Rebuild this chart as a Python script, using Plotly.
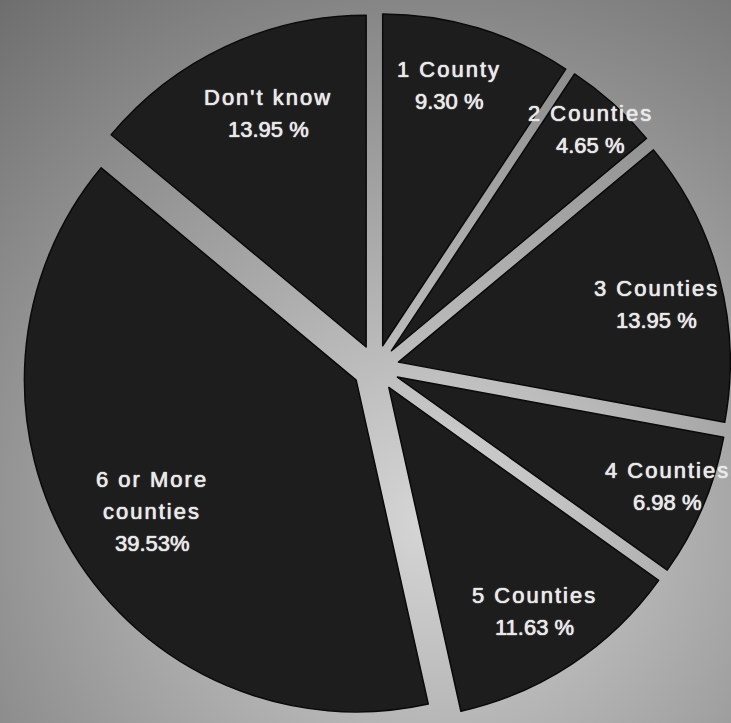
import base64
import math

import plotly.graph_objects as go

# Survey answers: how many counties, share of respondents (%)
categories = ["1 County", "2 Counties", "3 Counties", "4 Counties",
              "5 Counties", "6 or More\ncounties", "Don't know"]
shares = [9.30, 4.65, 13.95, 6.98, 11.63, 39.53, 13.95]
pct_sep = [" ", " ", " ", " ", " ", "", " "]

# Figure geometry
W, H = 731, 723
PULL = 0.07
dom_x = [21 / W, 1.0]
dom_y = [0.0, 710 / H]

# Label placement: radius as a fraction of the pie radius, small angular nudge (deg)
label_r = [0.88, 0.967, 0.867, 0.949, 0.877, 0.801, 0.834]
label_turn = [-2.2, 0.0, 1.9, -1.0, 0.4, -1.3, 2.2]
LINE_GAP = 32
FONT = "Liberation Sans, Arial, Helvetica, sans-serif"
TEXT_COLOR = "#e9e9e9"
SLICE_COLOR = "#1d1d1d"

# Soft grey radial backdrop
bg_svg = (
    f'<svg xmlns="http://www.w3.org/2000/svg" width="{W}" height="{H}">'
    '<defs><radialGradient id="g" gradientUnits="userSpaceOnUse" '
    'cx="430" cy="520" r="700">'
    '<stop offset="0" stop-color="#d6d6d6"/>'
    '<stop offset="1" stop-color="#6a6a6a"/>'
    '</radialGradient></defs>'
    f'<rect width="{W}" height="{H}" fill="url(#g)"/></svg>'
)
bg_uri = "data:image/svg+xml;base64," + base64.b64encode(bg_svg.encode()).decode()

names = [c.replace("\n", " ") for c in categories]

fig = go.Figure(
    go.Pie(
        labels=names,
        values=shares,
        sort=False,
        direction="clockwise",
        rotation=0,
        pull=[PULL] * len(shares),
        textinfo="none",
        hoverinfo="label+percent",
        marker=dict(colors=[SLICE_COLOR] * len(shares),
                    line=dict(color="#0a0a0a", width=1.5)),
        domain=dict(x=dom_x, y=dom_y),
        showlegend=False,
    )
)

# Pie centre and radius, following plotly's own pie sizing
box_w = W * (dom_x[1] - dom_x[0])
box_h = H * (dom_y[1] - dom_y[0])
R = min(box_w, box_h) / (2 + 2 * PULL)
cx = W * (dom_x[0] + dom_x[1]) / 2
cy = H * (1 - dom_y[0]) - box_h / 2

total = sum(shares)
annotations = []
start = 0.0
for cat, v, sep, rf, turn in zip(categories, shares, pct_sep, label_r, label_turn):
    span = 360.0 * v / total
    theta = math.radians(start + span / 2 + turn)
    start += span
    px = cx + rf * R * math.sin(theta)
    py = cy - rf * R * math.cos(theta)
    lines = [f'<span style="letter-spacing:2px">{t}</span>' for t in cat.split("\n")]
    lines.append(f"{v:.2f}{sep}%")
    n = len(lines)
    for k, line in enumerate(lines):
        ly = py + (k - (n - 1) / 2) * LINE_GAP
        annotations.append(dict(
            x=px / W, y=1 - ly / H, xref="paper", yref="paper",
            text=line, showarrow=False, xanchor="center", yanchor="middle",
            font=dict(family=FONT, size=22, color=TEXT_COLOR,
                      shadow="0px 0px 1px #e9e9e9, 0px 0px 1px #e9e9e9"),
        ))

fig.update_layout(
    width=W, height=H,
    margin=dict(l=0, r=0, t=0, b=0),
    paper_bgcolor="#8a8a8a",
    images=[dict(source=bg_uri, xref="paper", yref="paper", x=0, y=1,
                 sizex=1, sizey=1, xanchor="left", yanchor="top",
                 sizing="stretch", layer="below")],
    annotations=annotations,
)

fig.write_html("out.html")
